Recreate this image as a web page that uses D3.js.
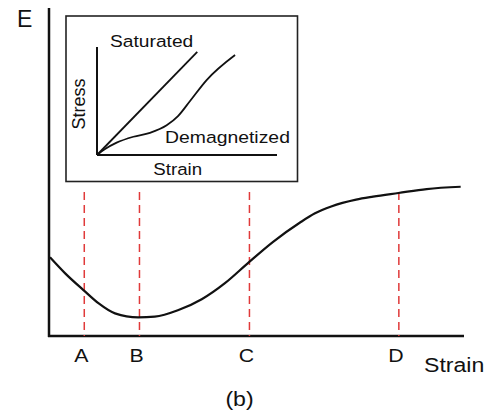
<!DOCTYPE html>
<html>
<head>
<meta charset="utf-8">
<script src="https://cdn.jsdelivr.net/npm/d3@7"></script>
<style>
  body { margin: 0; background: #fff; }
  text { font-family: "Liberation Sans", Arial, sans-serif; fill: #111; }
</style>
</head>
<body>
<svg id="chart" width="493" height="419"></svg>
<script>
// main curve: modulus E against strain (arbitrary units)
var strainMain = [0.24, 3.9, 8.3, 11.9, 15.9, 21.5, 25.5, 31.2, 36.8, 42.4, 48.0, 54.0, 60.5, 64.1, 68.0, 74.0, 78.1, 84.2, 91.0, 99.2];
var modulusE   = [24.0, 19.1, 14.0, 10.0, 6.9, 5.7, 5.9, 7.9, 11.2, 16.1, 22.3, 28.7, 34.6, 37.4, 39.5, 41.6, 42.5, 43.6, 44.8, 45.5];

var markerNames  = ["A", "B", "C", "D"];
var markerStrain = [8.5, 21.8, 48.3, 84.3];
var markerTop = 43.9;

// inset: stress-strain
var satStrain = [0, 5.57];
var satStress = [0, 9.56];
var demagStrain = [0, 0.45, 1.09, 2.02, 2.94, 3.87, 4.5, 5.17, 6.09, 7.67];
var demagStress = [0, 0.55, 1.14, 1.69, 2.05, 2.75, 3.6, 5.0, 6.94, 9.26];

var svg = d3.select("#chart");

var x = d3.scaleLinear().domain([0, 100]).range([49, 464]);
var y = d3.scaleLinear().domain([0, 100]).range([336, 8]);

// axes (domain lines only)
svg.append("line")
	.attr("x1", x(0)).attr("x2", x(0))
	.attr("y1", y(100)).attr("y2", y(0) + 1)
	.attr("stroke", "#111").attr("stroke-width", 2.5);
svg.append("line")
	.attr("x1", x(0) - 1).attr("x2", x(100))
	.attr("y1", y(0)).attr("y2", y(0))
	.attr("stroke", "#111").attr("stroke-width", 2.5);

// dashed markers
svg.selectAll(".marker")
	.data(markerStrain)
	.enter().append("line")
	.attr("class", "marker")
	.attr("x1", function(d){ return x(d); })
	.attr("x2", function(d){ return x(d); })
	.attr("y1", y(markerTop))
	.attr("y2", y(0))
	.attr("stroke", "#e03a3a")
	.attr("stroke-width", 1.5)
	.attr("stroke-dasharray", "8,5");

var mainData = strainMain.map(function(s, i){ return {s: s, e: modulusE[i]}; });
var line = d3.line()
	.x(function(d){ return x(d.s); })
	.y(function(d){ return y(d.e); })
	.curve(d3.curveMonotoneX);

svg.append("path")
	.datum(mainData)
	.attr("fill", "none")
	.attr("stroke", "#111")
	.attr("stroke-width", 2.2)
	.attr("d", line);

function stretchText(tx, ty, str, size, sx, anchor){
	return svg.append("text")
		.attr("transform", "translate(" + tx + "," + ty + ") scale(" + sx + ",1)")
		.attr("text-anchor", anchor || "start")
		.style("font-size", size + "px")
		.text(str);
}

// marker labels
markerNames.forEach(function(n, i){
	stretchText(x(markerStrain[i]) - 3, 361.7, n, 19, 1.12, "middle");
});

stretchText(17, 26.7, "E", 23, 1, "start");
stretchText(424, 372.3, "Strain", 21, 1.1, "start");
stretchText(239.5, 406, "(b)", 21, 1.1, "middle");

// ---------------- inset ----------------
svg.append("rect")
	.attr("x", 66).attr("y", 16)
	.attr("width", 231.5).attr("height", 165.5)
	.attr("fill", "#fff")
	.attr("stroke", "#222")
	.attr("stroke-width", 1.6);

var ix = d3.scaleLinear().domain([0, 10]).range([97, 277]);
var iy = d3.scaleLinear().domain([0, 10]).range([155, 47]);

svg.append("line")
	.attr("x1", ix(0)).attr("x2", ix(0))
	.attr("y1", iy(10)).attr("y2", iy(0))
	.attr("stroke", "#111").attr("stroke-width", 2);
svg.append("line")
	.attr("x1", ix(0)).attr("x2", ix(10))
	.attr("y1", iy(0)).attr("y2", iy(0))
	.attr("stroke", "#111").attr("stroke-width", 2);

var iline = d3.line()
	.x(function(d){ return ix(d[0]); })
	.y(function(d){ return iy(d[1]); })
	.curve(d3.curveMonotoneX);

svg.append("path")
	.datum(d3.zip(satStrain, satStress))
	.attr("fill", "none").attr("stroke", "#111").attr("stroke-width", 1.8)
	.attr("d", iline);
svg.append("path")
	.datum(d3.zip(demagStrain, demagStress))
	.attr("fill", "none").attr("stroke", "#111").attr("stroke-width", 1.8)
	.attr("d", iline);

stretchText(110, 46.5, "Saturated", 17, 1.13, "start");
stretchText(165, 143.3, "Demagnetized", 17, 1.14, "start");
stretchText(153.3, 175, "Strain", 17, 1.1, "start");

svg.append("text")
	.attr("transform", "translate(84.5,104) rotate(-90)")
	.attr("text-anchor", "middle")
	.style("font-size", "18px")
	.text("Stress");
</script>
</body>
</html>
